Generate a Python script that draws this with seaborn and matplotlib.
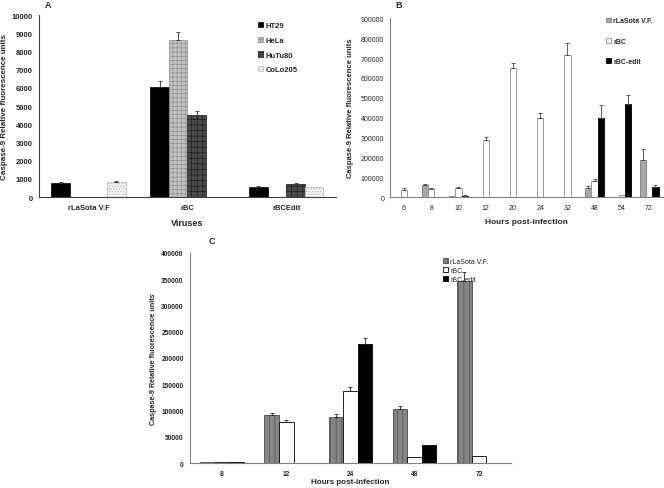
import numpy as np
import pandas as pd
import matplotlib
matplotlib.use("Agg")
import matplotlib.pyplot as plt
import seaborn as sns

# ---- panel A : caspase-9 per cell line
viruses = ["rLaSota V.F", "rBC", "rBCEdit"]
cell_lines = ["HT29", "HeLa", "HuTu80", "CoLo205"]
a_ht29 = [760, 6030, 560]
a_hela = [0, 8640, 0]
a_hutu80 = [0, 4520, 710]
a_colo205 = [840, 0, 560]
a_ht29_err = [60, 330, 50]
a_hela_err = [0, 440, 0]
a_hutu80_err = [0, 190, 50]
a_colo205_err = [20, 0, 0]

# ---- panel B : time course
b_hours = ["6", "8", "10", "12", "20", "24", "32", "48", "54", "72"]
b_series = ["rLaSota V.F.", "rBC", "rBC-edit"]
b_lasota = [0, 62000, 3000, 0, 0, 0, 0, 47000, 0, 185000]
b_rbc = [36000, 42000, 47000, 286000, 650000, 400000, 715000, 83000, 10000, 0]
b_edit = [0, 0, 6000, 0, 0, 0, 0, 400000, 471000, 50000]
b_lasota_err = [0, 4000, 0, 0, 0, 0, 0, 10000, 0, 55000]
b_rbc_err = [8000, 5000, 5000, 17000, 25000, 24000, 60000, 10000, 0, 0]
b_edit_err = [0, 0, 4000, 0, 0, 0, 0, 62000, 42000, 12000]

# ---- panel C : time course
c_hours = ["8", "12", "24", "48", "72"]
c_series = ["rLaSota V.F.", "rBC", "rBC-edit"]
c_lasota = [1500, 92000, 88500, 103000, 346000]
c_rbc = [1500, 77500, 137500, 10500, 13000]
c_edit = [1500, 0, 227000, 33500, 0]
c_lasota_err = [0, 4000, 4000, 6500, 18000]
c_rbc_err = [0, 3500, 6500, 0, 700]
c_edit_err = [0, 0, 10500, 1000, 0]


def long_frame(cats, names, values):
    rows = []
    for name, vals in zip(names, values):
        for cat, v in zip(cats, vals):
            rows.append({"cat": cat, "series": name, "val": v})
    return pd.DataFrame(rows)


def add_errors(ax, errs, color):
    for cont, err in zip(ax.containers, errs):
        for p, e in zip(cont.patches, err):
            if e <= 0:
                continue
            x = p.get_x() + p.get_width() / 2
            ax.errorbar([x], [p.get_height()], yerr=[[0], [e]], fmt="none",
                        ecolor=color, elinewidth=0.6, capsize=1.6, capthick=0.6)


def style_axis(ax, cats, spine_color, ymax, ystep, tick_size, bold_ticks):
    n = len(cats)
    sns.despine(ax=ax)
    for s in ["left", "bottom"]:
        ax.spines[s].set_color(spine_color)
        ax.spines[s].set_linewidth(0.8)
    ax.set_xlim(-0.5, n - 0.5)
    ax.set_ylim(0, ymax)
    ax.set_yticks(np.arange(0, ymax + 1, ystep))
    ax.set_xticks(range(n))
    ax.set_xticklabels(cats)
    ax.set_xticks(np.arange(-0.5, n), minor=True)
    ax.tick_params(axis="x", which="major", length=0, pad=5, labelsize=tick_size)
    ax.tick_params(axis="x", which="minor", length=3, color=spine_color, width=0.7)
    ax.tick_params(axis="y", length=2.5, color=spine_color, width=0.7,
                   labelsize=tick_size, pad=2)
    wt = "bold" if bold_ticks else "normal"
    for t in ax.get_xticklabels() + ax.get_yticklabels():
        t.set_fontweight(wt)
    ax.grid(False)


sns.set_theme(style="white")
plt.rcParams["font.family"] = ["Liberation Sans", "DejaVu Sans"]
plt.rcParams["hatch.linewidth"] = 0.45

fig = plt.figure(figsize=(6.64, 4.89), dpi=100)

# ---------- A
axA = fig.add_axes([0.0587, 0.595, 0.447, 0.372])
dfA = long_frame(viruses, cell_lines, [a_ht29, a_hela, a_hutu80, a_colo205])
sns.barplot(data=dfA, x="cat", y="val", hue="series", order=viruses,
            hue_order=cell_lines, width=0.75, errorbar=None, legend=False, ax=axA)
a_styles = [("#000000", "#000000", None),
            ("#c4c4c4", "#8a8a8a", "++++"),
            ("#4a4a4a", "#1a1a1a", "+++"),
            ("#f2f2f2", "#b5b5b5", "......")]
for cont, (fc, ec, h) in zip(axA.containers, a_styles):
    for p in cont.patches:
        p.set_facecolor(fc)
        p.set_edgecolor(ec)
        p.set_linewidth(0.5)
        p.set_hatch(h)
add_errors(axA, [a_ht29_err, a_hela_err, a_hutu80_err, a_colo205_err], "#333333")
style_axis(axA, viruses, "#404040", 10000, 1000, 5.5, True)
axA.set_xlabel("Viruses", fontsize=6.5, fontweight="bold")
axA.set_ylabel("Caspase-9 Relative fluorescence units", fontsize=5.8, fontweight="bold")
axA.xaxis.set_label_coords(0.5, -0.115)
axA.yaxis.set_label_coords(-0.105, 0.5)
axA.legend(handles=axA.containers, labels=cell_lines, loc="upper left",
           bbox_to_anchor=(0.715, 1.0), frameon=False, handlelength=0.7,
           handleheight=0.7, handletextpad=0.3, labelspacing=0.95,
           prop={"size": 5.5, "weight": "bold"})

# ---------- B
axB = fig.add_axes([0.588, 0.595, 0.41, 0.3655])
dfB = long_frame(b_hours, b_series, [b_lasota, b_rbc, b_edit])
sns.barplot(data=dfB, x="cat", y="val", hue="series", order=b_hours,
            hue_order=b_series, width=0.7, errorbar=None, legend=False, ax=axB)
b_styles = [("#a8a8a8", "#7a7a7a"), ("#ffffff", "#8a8a8a"), ("#000000", "#000000")]
for cont, (fc, ec) in zip(axB.containers, b_styles):
    for p in cont.patches:
        p.set_facecolor(fc)
        p.set_edgecolor(ec)
        p.set_linewidth(0.6)
add_errors(axB, [b_lasota_err, b_rbc_err, b_edit_err], "#444444")
style_axis(axB, b_hours, "#808080", 900000, 100000, 5, False)
axB.set_xlabel("Hours post-infection", fontsize=6, fontweight="bold")
axB.set_ylabel("Caspase-9 Relative fluorescence units", fontsize=5.5, fontweight="bold")
axB.xaxis.set_label_coords(0.5, -0.115)
axB.yaxis.set_label_coords(-0.135, 0.5)
axB.legend(handles=axB.containers, labels=b_series, loc="upper left",
           bbox_to_anchor=(0.77, 1.04), frameon=False, handlelength=0.7,
           handleheight=0.7, handletextpad=0.3, labelspacing=1.9,
           prop={"size": 5, "weight": "bold"})

# ---------- C
axC = fig.add_axes([0.2861, 0.0511, 0.4834, 0.4295])
dfC = long_frame(c_hours, c_series, [c_lasota, c_rbc, c_edit])
sns.barplot(data=dfC, x="cat", y="val", hue="series", order=c_hours,
            hue_order=c_series, width=0.68, errorbar=None, legend=False, ax=axC)
c_styles = [("#858585", "#4a4a4a", "|||"), ("#ffffff", "#000000", None),
            ("#000000", "#000000", None)]
for cont, (fc, ec, h) in zip(axC.containers, c_styles):
    for p in cont.patches:
        p.set_facecolor(fc)
        p.set_edgecolor(ec)
        p.set_linewidth(0.6)
        p.set_hatch(h)
add_errors(axC, [c_lasota_err, c_rbc_err, c_edit_err], "#222222")
style_axis(axC, c_hours, "#808080", 400000, 50000, 4.8, True)
axC.set_xlabel("Hours post-infection", fontsize=5.8, fontweight="bold")
axC.set_ylabel("Caspase-9 Relative fluorescence units", fontsize=5.2, fontweight="bold")
axC.xaxis.set_label_coords(0.5, -0.07)
axC.yaxis.set_label_coords(-0.103, 0.5)
axC.legend(handles=axC.containers, labels=c_series, loc="upper left",
           bbox_to_anchor=(0.77, 1.005), frameon=False, handlelength=0.7,
           handleheight=0.7, handletextpad=0.3, labelspacing=0.3,
           prop={"size": 5})

# panel letters
fig.text(48 / 664, 1 - 6 / 489, "A", fontsize=6.5, fontweight="bold", ha="center", va="center")
fig.text(399 / 664, 1 - 5 / 489, "B", fontsize=6.5, fontweight="bold", ha="center", va="center")
fig.text(212 / 664, 1 - 242 / 489, "C", fontsize=6.5, fontweight="bold", ha="center", va="center")

fig.savefig("out.png", dpi=100, facecolor="white")
